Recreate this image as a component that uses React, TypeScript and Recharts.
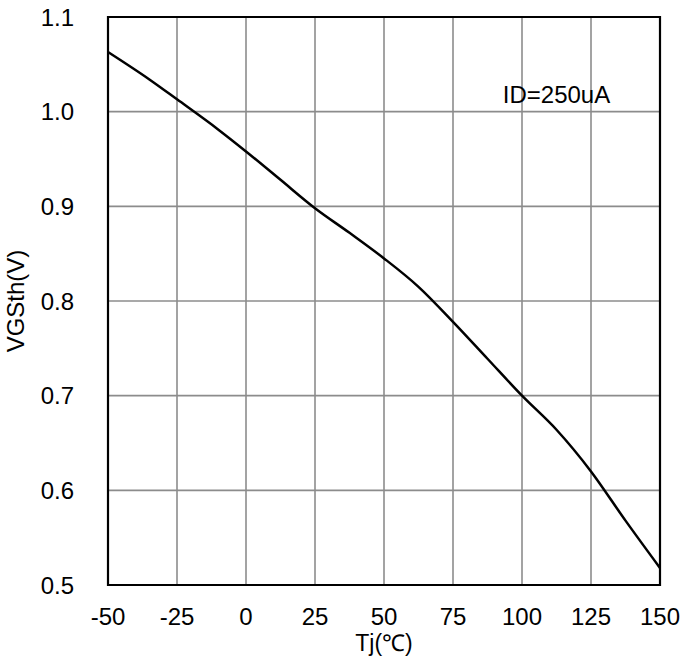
import { CartesianGrid, Label, Line, LineChart, ReferenceArea, ReferenceDot, XAxis, YAxis } from "recharts";

const temps = [-50, -35, -25, -10, 0, 12.5, 25, 37.5, 50, 62.5, 75, 87.5, 100, 112.5, 125, 137.5, 150];
const vgsth = [1.063, 1.034, 1.013, 0.981, 0.958, 0.928, 0.898, 0.872, 0.845, 0.815, 0.778, 0.739, 0.7, 0.664, 0.62, 0.568, 0.518];
const xTicks = [-50, -25, 0, 25, 50, 75, 100, 125, 150];
const yTicks = [0.5, 0.6, 0.7, 0.8, 0.9, 1.0, 1.1];

const data = temps.map((t, i) => ({ t, v: vgsth[i] }));

const FONT = "'Liberation Sans', Arial, sans-serif";
const textStyle = { fill: "#000", fontSize: 24, fontFamily: FONT };

export default function App() {
  return (
    <div style={{ position: "absolute", left: 0, top: 0, width: 683, height: 658, background: "#fff" }}>
      <LineChart width={683} height={658} data={data} margin={{ top: 17, right: 23, left: 0, bottom: 0 }}>
        <CartesianGrid stroke="#8c8c8c" strokeWidth={1.6} />
        <XAxis
          dataKey="t"
          type="number"
          domain={[-50, 150]}
          ticks={xTicks}
          tickLine={false}
          axisLine={false}
          tickSize={0}
          tickMargin={23}
          height={73}
          tick={textStyle}
          interval={0}
        >
          <Label value="Tj(℃)" position="insideBottom" offset={7} style={{ ...textStyle, fontSize: 23 }} />
        </XAxis>
        <YAxis
          type="number"
          domain={[0.5, 1.1]}
          ticks={yTicks}
          tickFormatter={(v: number) => v.toFixed(1)}
          tickLine={false}
          axisLine={false}
          tickSize={0}
          tickMargin={34}
          width={108}
          tick={textStyle}
          interval={0}
        >
          <Label value="VGSth(V)" angle={-90} position="insideLeft" offset={15} style={{ ...textStyle, textAnchor: "middle" }} />
        </YAxis>
        <ReferenceArea x1={-50} x2={150} y1={0.5} y2={1.1} fill="none" stroke="#000" strokeWidth={2.2} />
        <ReferenceDot
          x={112.5}
          y={1.018}
          r={0}
          fill="none"
          stroke="none"
          label={{ value: "ID=250uA", position: "center", style: textStyle }}
        />
        <Line dataKey="v" type="monotone" stroke="#000" strokeWidth={2.5} dot={false} isAnimationActive={false} />
      </LineChart>
    </div>
  );
}
